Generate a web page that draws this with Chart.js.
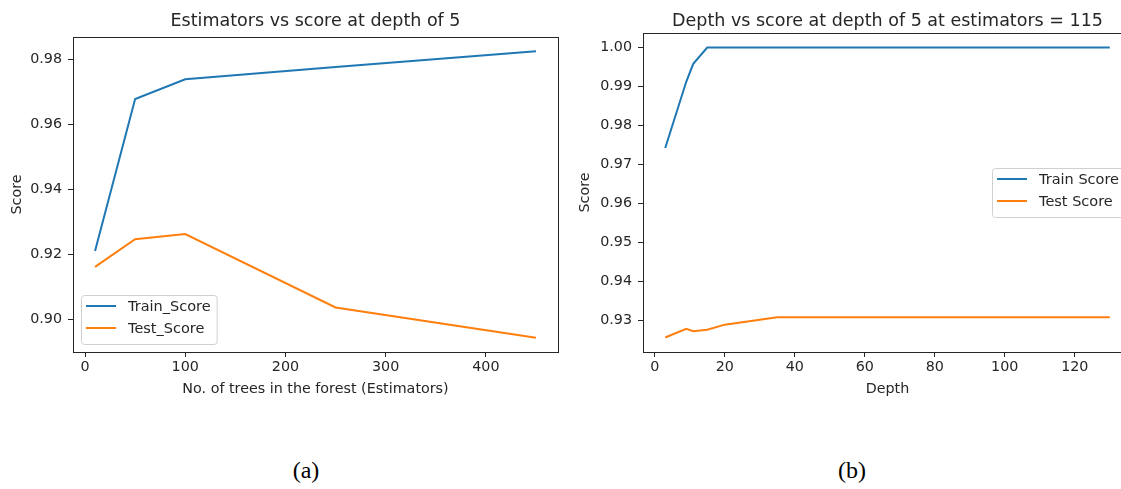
<!DOCTYPE html>
<html>
<head>
<meta charset="utf-8">
<script src="https://cdn.jsdelivr.net/npm/chart.js@4"></script>
<style>
  html, body { margin: 0; padding: 0; background: #fff; }
  #page { position: relative; width: 1121px; height: 489px; overflow: hidden; }
  canvas { position: absolute; top: 0; }
  #est { left: 0; }
  #depth { left: 560px; }
  .cap {
    position: absolute; top: 457px; width: 60px; margin-left: -30px;
    text-align: center; font: 24px "Liberation Serif", serif; color: #000;
  }
</style>
</head>
<body>
<div id="page">
  <canvas id="est" width="560" height="400"></canvas>
  <canvas id="depth" width="575" height="400"></canvas>
  <div class="cap" style="left:306px">(a)</div>
  <div class="cap" style="left:852px">(b)</div>
</div>
<script>
// (a) number of trees
const estimators = [10, 50, 100, 250, 450];
const estTrain = [0.9210, 0.9677, 0.9738, 0.9776, 0.9824];
const estTest = [0.9161, 0.9246, 0.9262, 0.9036, 0.8943];
const estTicks = [0, 100, 200, 300, 400];
const estScoreTicks = [0.90, 0.92, 0.94, 0.96, 0.98];

// (b) tree depth
const depths = [3, 9, 11, 15, 20, 35, 130];
const depthTrain = [0.9742, 0.9912, 0.9958, 1.0, 1.0, 1.0, 1.0];
const depthTest = [0.9256, 0.9278, 0.9272, 0.9276, 0.9289, 0.9308, 0.9308];
const depthTicks = [0, 20, 40, 60, 80, 100, 120];
const depthScoreTicks = [0.93, 0.94, 0.95, 0.96, 0.97, 0.98, 0.99, 1.00];

const BLUE = '#1f77b4';
const ORANGE = '#ff7f0e';
const INK = '#262626';
const LABEL_SIZE = 14.3;

Chart.defaults.font.family = '"DejaVu Sans", sans-serif';
Chart.defaults.color = INK;

// matplotlib style autoscale: data limits plus 5% each side
const padded = (vals) => {
  const lo = Math.min(...vals), hi = Math.max(...vals);
  const m = (hi - lo) * 0.05;
  return {min: lo - m, max: hi + m};
};

const points = (xs, ys) => xs.map((x, i) => ({x: x, y: ys[i]}));

// box around the plot area
const frame = {
  id: 'frame',
  afterDraw(chart) {
    const {ctx, chartArea: a} = chart;
    ctx.save();
    ctx.strokeStyle = INK;
    ctx.lineWidth = 1;
    ctx.strokeRect(Math.round(a.left) + 0.5, Math.round(a.top) + 0.5,
      Math.round(a.right - a.left), Math.round(a.bottom - a.top));
    ctx.restore();
  }
};

// legend drawn inside the axes, like pyplot's
const boxLegend = {
  id: 'boxLegend',
  afterDraw(chart, args, opts) {
    const {ctx, chartArea: a} = chart;
    ctx.save();
    ctx.font = '14.5px "DejaVu Sans", sans-serif';
    const sets = chart.data.datasets;
    const textW = Math.max(...sets.map(d => ctx.measureText(d.label).width));
    const w = 47 + textW + 6;
    const h = 49;
    let x, y;
    if (opts.loc === 'lower left') {
      x = a.left + 8;
      y = a.bottom - 8 - h;
    } else {
      x = a.right - 7 - w;
      y = (a.top + a.bottom) / 2 - h / 2;
    }
    ctx.fillStyle = 'rgba(255,255,255,0.8)';
    ctx.strokeStyle = '#d0d0d0';
    ctx.lineWidth = 1;
    ctx.beginPath();
    ctx.roundRect(Math.round(x) + 0.5, Math.round(y) + 0.5, w, h, 3);
    ctx.fill();
    ctx.stroke();
    sets.forEach((d, i) => {
      const cy = y + 11 + i * 22;
      ctx.strokeStyle = d.borderColor;
      ctx.lineWidth = 2;
      ctx.beginPath();
      ctx.moveTo(x + 5, cy);
      ctx.lineTo(x + 35, cy);
      ctx.stroke();
      ctx.fillStyle = INK;
      ctx.textBaseline = 'middle';
      ctx.fillText(d.label, x + 47, cy + 1);
    });
    ctx.restore();
  }
};

const lineSet = (label, data, color) => ({
  label: label,
  data: data,
  borderColor: color,
  backgroundColor: color,
  borderWidth: 2,
  pointRadius: 0,
  tension: 0,
  fill: false
});

const makeChart = (id, cfg) => new Chart(document.getElementById(id), {
  type: 'line',
  data: {datasets: cfg.datasets},
  plugins: [frame, boxLegend],
  options: {
    responsive: false,
    animation: false,
    devicePixelRatio: 1,
    layout: {padding: {left: 0, right: cfg.padRight, top: 0, bottom: 0}},
    plugins: {
      legend: {display: false},
      tooltip: {enabled: false},
      title: {
        display: true,
        fullSize: false, // centre over the axes, not the canvas
        text: cfg.title,
        color: INK,
        font: {size: 17.5, weight: 'normal'},
        padding: {top: cfg.titleTop, bottom: cfg.titleBottom}
      },
      boxLegend: {loc: cfg.legendLoc}
    },
    scales: {
      x: {
        type: 'linear',
        min: cfg.xRange.min,
        max: cfg.xRange.max,
        afterBuildTicks: (s) => { s.ticks = cfg.xTicks.map(v => ({value: v})); },
        afterFit: (s) => { s.height = 48; },
        grid: {drawOnChartArea: false, drawTicks: true, tickLength: 5, color: INK},
        border: {display: false},
        ticks: {font: {size: LABEL_SIZE}, padding: 2, maxRotation: 0, color: INK},
        title: {display: true, text: cfg.xTitle, font: {size: LABEL_SIZE}, color: INK,
          padding: {top: 0, bottom: 2}}
      },
      y: {
        type: 'linear',
        min: cfg.yRange.min,
        max: cfg.yRange.max,
        afterBuildTicks: (s) => { s.ticks = cfg.yTicks.map(v => ({value: v})); },
        afterFit: (s) => { s.width = cfg.yWidth; },
        grid: {drawOnChartArea: false, drawTicks: true, tickLength: 5, color: INK},
        border: {display: false},
        ticks: {font: {size: LABEL_SIZE}, padding: 6, color: INK,
          callback: (v) => Number(v).toFixed(2)},
        title: {display: true, text: 'Score', font: {size: LABEL_SIZE}, color: INK,
          padding: {top: cfg.scorePad, bottom: 0}}
      }
    }
  }
});

makeChart('est', {
  title: 'Estimators vs score at depth of 5',
  datasets: [
    lineSet('Train_Score', points(estimators, estTrain), BLUE),
    lineSet('Test_Score', points(estimators, estTest), ORANGE)
  ],
  xRange: padded(estimators),
  yRange: padded(estTrain.concat(estTest)),
  xTicks: estTicks,
  yTicks: estScoreTicks,
  xTitle: 'No. of trees in the forest (Estimators)',
  yWidth: 73,
  scorePad: 9,
  padRight: 2,
  titleTop: 11,
  titleBottom: 5,
  legendLoc: 'lower left'
});

makeChart('depth', {
  title: 'Depth vs score at depth of 5 at estimators = 115',
  datasets: [
    lineSet('Train Score', points(depths, depthTrain), BLUE),
    lineSet('Test Score', points(depths, depthTest), ORANGE)
  ],
  xRange: padded(depths),
  yRange: padded(depthTrain.concat(depthTest)),
  xTicks: depthTicks,
  yTicks: depthScoreTicks,
  xTitle: 'Depth',
  yWidth: 83,
  scorePad: 17,
  padRight: 3,
  titleTop: 11,
  titleBottom: 1,
  legendLoc: 'center right'
});
</script>
</body>
</html>
